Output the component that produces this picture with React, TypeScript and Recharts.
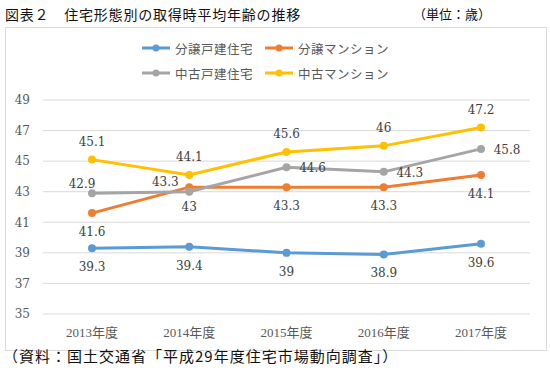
import { LineChart, Line, XAxis, YAxis, CartesianGrid } from 'recharts'

const years = ['2013年度', '2014年度', '2015年度', '2016年度', '2017年度']
const bunjoKodate = [39.3, 39.4, 39, 38.9, 39.6]
const bunjoMansion = [41.6, 43.3, 43.3, 43.3, 44.1]
const chukoKodate = [42.9, 43, 44.6, 44.3, 45.8]
const chukoMansion = [45.1, 44.1, 45.6, 46, 47.2]
const yTicks = [35, 37, 39, 41, 43, 45, 47, 49]

const data = years.map((year, i) => ({
  year,
  bunjoKodate: bunjoKodate[i],
  bunjoMansion: bunjoMansion[i],
  chukoKodate: chukoKodate[i],
  chukoMansion: chukoMansion[i],
}))

// label placement offsets (dx, dy) relative to each point
const PLACE: Record<string, [number, number]> = {
  top: [0, -18],
  bottom: [0, 19],
  right: [26, 1],
  left: [-24, -5],
  topLeft: [-10, -9],
  below: [0, 15],
}

const series = [
  { key: 'bunjoKodate', name: '分譲戸建住宅', color: '#5B9BD5', place: ['bottom', 'bottom', 'bottom', 'bottom', 'bottom'] },
  { key: 'bunjoMansion', name: '分譲マンション', color: '#ED7D31', place: ['bottom', 'left', 'bottom', 'bottom', 'bottom'] },
  { key: 'chukoKodate', name: '中古戸建住宅', color: '#A5A5A5', place: ['topLeft', 'below', 'right', 'right', 'right'] },
  { key: 'chukoMansion', name: '中古マンション', color: '#FFC000', place: ['top', 'top', 'top', 'top', 'top'] },
]

const NUM_FONT = '"DejaVu Serif", "Noto Sans CJK JP", serif'
const JP_FONT = '"Noto Sans CJK JP", sans-serif'

function makeLabel(place: string[]) {
  return (props: any) => {
    const { x, y, value, index } = props
    const [dx, dy] = PLACE[place[index]] || PLACE.top
    return (
      <text
        key={index}
        x={x + dx}
        y={y + dy}
        textAnchor="middle"
        dominantBaseline="central"
        fill="#404040"
        fontSize={12}
        fontFamily={NUM_FONT}
      >
        {value}
      </text>
    )
  }
}

function LegendItem({ x, y, color, name }: { x: number; y: number; color: string; name: string }) {
  return (
    <div style={{ position: 'absolute', left: x, top: y - 9, height: 18, display: 'flex', alignItems: 'center' }}>
      <svg width={30} height={10} style={{ marginRight: 3 }}>
        <line x1={0} y1={5} x2={28} y2={5} stroke={color} strokeWidth={3} />
        <circle cx={14} cy={5} r={3.5} fill={color} />
      </svg>
      <span style={{ fontFamily: JP_FONT, fontSize: 12.5, color: '#595959', letterSpacing: 0.5 }}>{name}</span>
    </div>
  )
}

export default function App() {
  return (
    <div style={{ position: 'absolute', left: 0, top: 0, width: 550, height: 380, background: '#fff', overflow: 'hidden' }}>
      <div style={{ position: 'absolute', left: 5, top: 5, fontFamily: JP_FONT, fontSize: 14, lineHeight: '18px', color: '#111', letterSpacing: 0.8 }}>
        図表２　住宅形態別の取得時平均年齢の推移
      </div>
      <div style={{ position: 'absolute', left: 413, top: 5, fontFamily: JP_FONT, fontSize: 13, lineHeight: '18px', color: '#111' }}>
        （単位：歳）
      </div>
      <div style={{ position: 'absolute', left: 5, top: 27, width: 540, height: 322, border: '1px solid #D9D9D9' }} />

      <LegendItem x={142} y={48} color={series[0].color} name={series[0].name} />
      <LegendItem x={265} y={48} color={series[1].color} name={series[1].name} />
      <LegendItem x={142} y={73} color={series[2].color} name={series[2].name} />
      <LegendItem x={265} y={73} color={series[3].color} name={series[3].name} />

      <div style={{ position: 'absolute', left: 0, top: 0 }}>
        <LineChart width={550} height={380} data={data} margin={{ top: 100, right: 20, bottom: 26, left: 8 }}>
          <CartesianGrid vertical={false} stroke="#D9D9D9" />
          <XAxis
            dataKey="year"
            axisLine={false}
            tickLine={false}
            height={40}
            tickMargin={8}
            padding={{ left: 49, right: 49 }}
            tick={{ fill: '#595959', fontSize: 13, fontFamily: '"Liberation Serif", "Noto Sans CJK JP", serif' }}
          />
          <YAxis
            domain={[35, 49]}
            ticks={yTicks}
            axisLine={false}
            tickLine={false}
            width={35}
            tickMargin={7}
            tick={{ fill: '#595959', fontSize: 12, fontFamily: NUM_FONT }}
          />
          {series.map(s => (
            <Line
              key={s.key}
              dataKey={s.key}
              name={s.name}
              stroke={s.color}
              strokeWidth={3}
              dot={{ r: 4, fill: s.color, stroke: 'none' }}
              activeDot={false}
              isAnimationActive={false}
              label={makeLabel(s.place)}
            />
          ))}
        </LineChart>
      </div>

      <div style={{ position: 'absolute', left: 3, top: 347, fontFamily: JP_FONT, fontSize: 15, lineHeight: '18px', color: '#111', letterSpacing: 1 }}>
        （資料：国土交通省「平成29年度住宅市場動向調査」）
      </div>
    </div>
  )
}
